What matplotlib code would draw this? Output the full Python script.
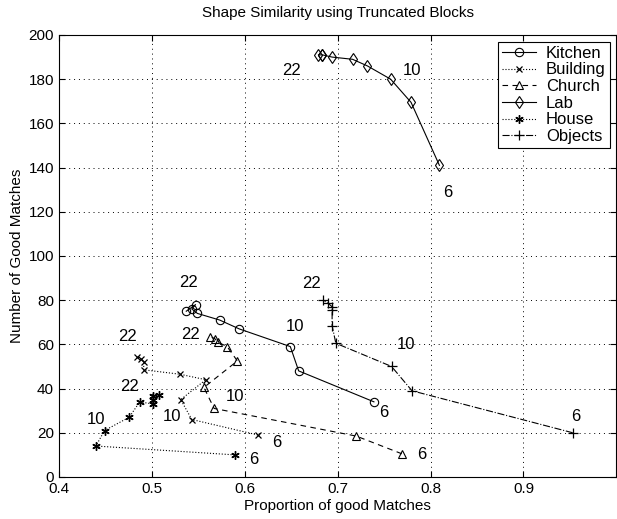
import numpy as np
import matplotlib.pyplot as plt

plt.rcParams['font.family'] = ['Liberation Sans', 'DejaVu Sans']

# parameter values run 6 -> 22 along each curve
kitchen_x = [0.739, 0.658, 0.649, 0.594, 0.573, 0.549, 0.543, 0.547, 0.537]
kitchen_y = [34, 48, 59, 67, 71, 74, 76, 78, 75]

building_x = [0.614, 0.543, 0.531, 0.558, 0.530, 0.491, 0.4915, 0.488, 0.484]
building_y = [19, 26, 35, 44, 46.5, 48.5, 52, 53.5, 54.5]

church_x = [0.769, 0.720, 0.567, 0.556, 0.592, 0.581, 0.571, 0.568, 0.563]
church_y = [10.5, 18.5, 31, 40.5, 52.5, 59, 61, 62.5, 63.5]

lab_x = [0.8095, 0.779, 0.757, 0.732, 0.716, 0.694, 0.6836, 0.6836, 0.6793]
lab_y = [141, 169.5, 180, 186, 189, 190, 191, 191, 191]

house_x = [0.589, 0.4397, 0.449, 0.4755, 0.487, 0.501, 0.501, 0.501, 0.508]
house_y = [10, 14, 21, 27, 34, 33, 35, 36.5, 37]

objects_x = [0.953, 0.780, 0.758, 0.698, 0.694, 0.694, 0.694, 0.690, 0.684]
objects_y = [20, 39, 50, 60.5, 68.5, 75.5, 77, 78.5, 80]

# curve labels: (text, x, y)
labels = [
    ("22", 0.650, 184), ("10", 0.780, 184), ("6", 0.818, 128.5),
    ("22", 0.539, 88), ("10", 0.654, 68), ("6", 0.750, 29),
    ("22", 0.542, 64.5), ("10", 0.589, 36.5), ("6", 0.791, 10),
    ("22", 0.474, 63.5), ("10", 0.522, 27.3), ("6", 0.634, 15.5),
    ("22", 0.476, 41), ("10", 0.440, 26.2), ("6", 0.610, 7.7),
    ("22", 0.672, 87.5), ("10", 0.773, 60), ("6", 0.956, 27.3),
]

fig = plt.figure(figsize=(6.17, 5.19), dpi=100)
ax = fig.add_axes([0.0956, 0.081, 0.9034, 0.8516])

lw = 0.8
ax.plot(kitchen_x, kitchen_y, '-', color='k', lw=lw, marker='o', ms=6,
        mfc='none', mew=0.8, label='Kitchen')
ax.plot(building_x, building_y, ':', color='k', lw=lw, marker='x', ms=5,
        mew=0.9, label='Building')
ax.plot(church_x, church_y, '--', color='k', lw=lw, marker='^', ms=6,
        mfc='none', mew=0.8, dashes=(5, 4), label='Church')
ax.plot(lab_x, lab_y, '-', color='k', lw=lw, marker='d', ms=6,
        mfc='none', mew=0.8, label='Lab')
ax.plot(house_x, house_y, ':', color='k', lw=lw, marker=(6, 2, 0), ms=6,
        mew=1.0, label='House')
ax.plot(objects_x, objects_y, '-.', color='k', lw=lw, marker='+', ms=7,
        mew=0.9, label='Objects')

for txt, x, y in labels:
    ax.text(x, y, txt, fontsize=12, ha='center', va='center')

ax.set_xlim(0.4, 1.0)
ax.set_ylim(0, 200)
ax.set_xticks(np.arange(0.4, 0.95, 0.1))
ax.set_xticklabels(['0.4', '0.5', '0.6', '0.7', '0.8', '0.9'])
ax.set_yticks(np.arange(0, 201, 20))
ax.tick_params(direction='in', top=True, right=True, labelsize=11, length=4)
ax.grid(True, linestyle=(0, (1, 4)), color='k', lw=0.7)

ax.set_xlabel('Proportion of good Matches', fontsize=11, labelpad=2)
ax.set_ylabel('Number of Good Matches', fontsize=11, labelpad=3)
ax.set_title('Shape Similarity using Truncated Blocks', fontsize=11, pad=13)

leg = ax.legend(loc='upper right', fontsize=12, handlelength=2.0,
                handletextpad=0.6, borderpad=0.25, labelspacing=0.1,
                borderaxespad=0.4, fancybox=False, framealpha=1,
                edgecolor='k')
leg.get_frame().set_linewidth(0.8)

fig.savefig('out.png', dpi=100)
